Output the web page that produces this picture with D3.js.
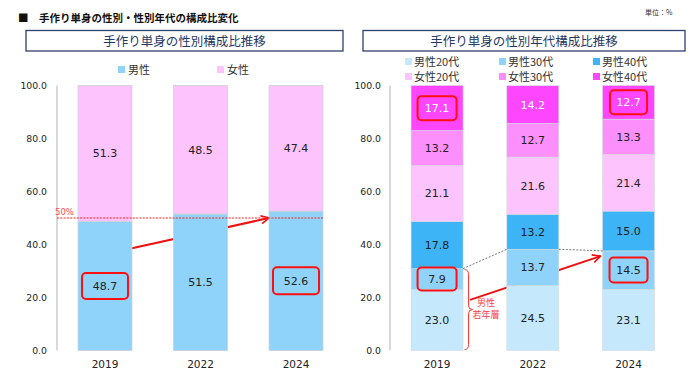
<!DOCTYPE html>
<html><head><meta charset="utf-8">
<script src="https://cdn.jsdelivr.net/npm/d3@7"></script>
<style>body{margin:0;background:#fff}svg{display:block}</style>
</head><body>
<script>
const years = ["2019","2022","2024"];
const male = [48.7, 51.5, 52.6];
const female = [51.3, 48.5, 47.4];
const m20 = [23.0, 24.5, 23.1];
const m30 = [7.9, 13.7, 14.5];
const m40 = [17.8, 13.2, 15.0];
const f20 = [21.1, 21.6, 21.4];
const f30 = [13.2, 12.7, 13.3];
const f40 = [17.1, 14.2, 12.7];
const yTicks = [0, 20, 40, 60, 80, 100];
const sexNames = ["男性","女性"];
const ageNames = ["男性20代","男性30代","男性40代","女性20代","女性30代","女性40代"];

const W = 700, H = 382;
const JP = "'Noto Sans CJK JP','Noto Sans',sans-serif";
const NUM = "'DejaVu Sans',Verdana,sans-serif";
const svg = d3.select("body").append("svg").attr("width", W).attr("height", H);
const defs = svg.append("defs");
defs.append("marker").attr("id","arr").attr("viewBox","0 0 10 10").attr("refX",9).attr("refY",5)
  .attr("markerWidth",5).attr("markerHeight",5).attr("orient","auto").attr("markerUnits","strokeWidth")
  .append("path").attr("d","M1,1 L9,5 L1,9").attr("fill","none").attr("stroke","#ee1111").attr("stroke-width",1.6);

const y = d3.scaleLinear().domain([0,100]).range([350.5, 85.5]);

// header
svg.append("text").attr("x",18).attr("y",22).attr("font-family",JP).attr("font-size",10.5).attr("font-weight","bold")
  .attr("fill","#111").text("■　手作り単身の性別・性別年代の構成比変化");
svg.append("text").attr("x",645).attr("y",15).attr("font-family",JP).attr("font-size",7).attr("fill","#333").text("単位：%");

function titleBox(x0,x1,label){
  svg.append("rect").attr("x",x0).attr("y",30.5).attr("width",x1-x0).attr("height",20.5)
    .attr("fill","#fff").attr("stroke","#2f3f6f").attr("stroke-width",1.3);
  svg.append("text").attr("x",(x0+x1)/2).attr("y",45.5).attr("text-anchor","middle").attr("font-family",JP)
    .attr("font-size",12.5).attr("fill","#1f3864").text(label);
}
titleBox(26,343,"手作り単身の性別構成比推移");
titleBox(363,685,"手作り単身の性別年代構成比推移");

function yAxis(ax, labelX){
  svg.append("line").attr("x1",ax).attr("x2",ax).attr("y1",y(100)).attr("y2",y(0)).attr("stroke","#d9d9d9").attr("stroke-width",2);
  svg.append("g").selectAll("text").data(yTicks).join("text").attr("x",labelX).attr("y",d=>y(d)+3.5)
    .attr("text-anchor","end").attr("font-family",NUM).attr("font-size",9.3).attr("fill","#222").text(d=>d.toFixed(1));
}

function roundBox(cx,cy,w,h){
  svg.append("rect").attr("x",cx-w/2).attr("y",cy-h/2).attr("width",w).attr("height",h).attr("rx",4)
    .attr("fill","none").attr("stroke","#ff1010").attr("stroke-width",2);
}

// ---------- Left chart ----------
const xL = d3.scaleBand().domain(years).range([57,344]).paddingInner(0.435).paddingOuter(0.22);
const sexColors = ["#8fd3fa","#fdc3fd"];
const sexData = years.map((yr,i)=>({year:yr, "男性":male[i], "女性":female[i]}));
const sexStack = d3.stack().keys(sexNames)(sexData);

yAxis(57, 47);

// arrow behind bars
svg.append("line").attr("x1",xL("2019")+xL.bandwidth()).attr("y1",y(38.6)).attr("x2",xL("2024")).attr("y2",y(50))
  .attr("stroke","#ee1111").attr("stroke-width",2).attr("marker-end","url(#arr)");

sexStack.forEach((s,k)=>{
  svg.append("g").selectAll("rect").data(s).join("rect")
    .attr("x",d=>xL(d.data.year)).attr("width",xL.bandwidth())
    .attr("y",d=>y(d[1])).attr("height",d=>y(d[0])-y(d[1]))
    .attr("fill",sexColors[k]).attr("stroke","#c9d3dc").attr("stroke-width",0.8);
  svg.append("g").selectAll("text").data(s).join("text")
    .attr("x",d=>xL(d.data.year)+xL.bandwidth()/2).attr("y",d=>y((d[0]+d[1])/2)+4)
    .attr("text-anchor","middle").attr("font-family",NUM).attr("font-size",11).attr("fill","#222")
    .text(d=>(d[1]-d[0]).toFixed(1));
});

// 50% line
svg.append("line").attr("x1",57).attr("x2",xL("2024")+xL.bandwidth()).attr("y1",y(50)).attr("y2",y(50))
  .attr("stroke","#ff2020").attr("stroke-width",1.2).attr("stroke-dasharray","2,1.3");
svg.append("text").attr("x",55).attr("y",y(50)-3).attr("font-family",NUM).attr("font-size",8.5).attr("fill","#ff4a4a").text("50%");

roundBox(xL("2019")+xL.bandwidth()/2, y(male[0]/2), 46, 26);
roundBox(xL("2024")+xL.bandwidth()/2, y(male[2]/2), 46, 27);

svg.append("g").selectAll("text").data(years).join("text").attr("x",d=>xL(d)+xL.bandwidth()/2).attr("y",368)
  .attr("text-anchor","middle").attr("font-family",NUM).attr("font-size",10.5).attr("fill","#222").text(d=>d);

// left legend
[[118,0],[217,1]].forEach(([lx,k])=>{
  svg.append("rect").attr("x",lx).attr("y",66).attr("width",7).attr("height",7).attr("fill",sexColors[k]);
  svg.append("text").attr("x",lx+10).attr("y",73.5).attr("font-family",JP).attr("font-size",11).attr("fill","#333").text(sexNames[k]);
});

// ---------- Right chart ----------
const xR = d3.scaleBand().domain(years).range([390,675.6]).paddingInner(0.457).paddingOuter(0.22);
const ageColors = ["#c5e8fc","#8fd3fa","#3db4f5","#fdc3fd","#fd8ffd","#fd46fd"];
const ageSeries = [m20,m30,m40,f20,f30,f40];
const ageData = years.map((yr,i)=>{const o={year:yr}; ageNames.forEach((n,k)=>o[n]=ageSeries[k][i]); return o;});
const ageStack = d3.stack().keys(ageNames)(ageData);

yAxis(390, 381);

// red arrow behind bars
svg.append("line").attr("x1",xR("2019")+xR.bandwidth()+7).attr("y1",y(19.1)).attr("x2",xR("2024")-2).attr("y2",y(35.6))
  .attr("stroke","#ee1111").attr("stroke-width",2).attr("marker-end","url(#arr)");

ageStack.forEach((s,k)=>{
  svg.append("g").selectAll("rect").data(s).join("rect")
    .attr("x",d=>xR(d.data.year)).attr("width",xR.bandwidth())
    .attr("y",d=>y(Math.min(d[1],100))).attr("height",d=>y(d[0])-y(Math.min(d[1],100)))
    .attr("fill",ageColors[k]).attr("stroke","#d4dbe2").attr("stroke-width",0.6);
  svg.append("g").selectAll("text").data(s).join("text")
    .attr("x",d=>xR(d.data.year)+xR.bandwidth()/2).attr("y",d=>y((d[0]+Math.min(d[1],100))/2)+4)
    .attr("text-anchor","middle").attr("font-family",NUM).attr("font-size",11).attr("fill",k===5?"#fff":"#222")
    .text(d=>(d[1]-d[0]).toFixed(1));
});

// grey dashed connectors at top of 男性30代
const m30top = years.map((yr,i)=>m20[i]+m30[i]);
for(let i=0;i<years.length-1;i++){
  svg.append("line").attr("x1",xR(years[i])+xR.bandwidth()).attr("y1",y(m30top[i]))
    .attr("x2",xR(years[i+1])).attr("y2",y(m30top[i+1]))
    .attr("stroke","#777").attr("stroke-width",1).attr("stroke-dasharray","2,1.5");
}

// brace
{
  const bx = xR("2019")+xR.bandwidth()+1.5, t = y(m30top[0])+1, b = y(0)-1, m=(t+b)/2;
  svg.append("path").attr("d",`M${bx},${t} Q${bx+4},${t} ${bx+4},${t+5} L${bx+4},${m-4} Q${bx+4},${m} ${bx+8},${m} Q${bx+4},${m} ${bx+4},${m+4} L${bx+4},${b-5} Q${bx+4},${b} ${bx},${b}`)
    .attr("fill","none").attr("stroke","#ff3030").attr("stroke-width",1);
  svg.append("text").attr("x",486).attr("y",306).attr("text-anchor","middle").attr("font-family",JP).attr("font-size",9).attr("fill","#ff4040").text("男性");
  svg.append("text").attr("x",486).attr("y",318).attr("text-anchor","middle").attr("font-family",JP).attr("font-size",9).attr("fill","#ff4040").text("若年層");
}

roundBox(xR("2019")+xR.bandwidth()/2, y(m20[0]+m30[0]/2), 39, 23);
roundBox(xR("2024")+xR.bandwidth()/2, y(m20[2]+m30[2]/2), 38, 25);
roundBox(xR("2019")+xR.bandwidth()/2, y((100-f40[0]+100)/2), 39, 24);
roundBox(xR("2024")+xR.bandwidth()/2, y((100-f40[2]+100)/2), 37, 24);

svg.append("g").selectAll("text").data(years).join("text").attr("x",d=>xR(d)+xR.bandwidth()/2).attr("y",368)
  .attr("text-anchor","middle").attr("font-family",NUM).attr("font-size",10.5).attr("fill","#222").text(d=>d);

// right legend
const legX = [405,499,593], legY = [62,77];
ageNames.forEach((n,k)=>{
  const lx = legX[k%3], ly = legY[Math.floor(k/3)];
  svg.append("rect").attr("x",lx).attr("y",ly-4).attr("width",7).attr("height",7).attr("fill",ageColors[k]);
  svg.append("text").attr("x",lx+9).attr("y",ly+3.5).attr("font-family",JP).attr("font-size",11).attr("fill","#333").text(n);
});
</script>
</body></html>
